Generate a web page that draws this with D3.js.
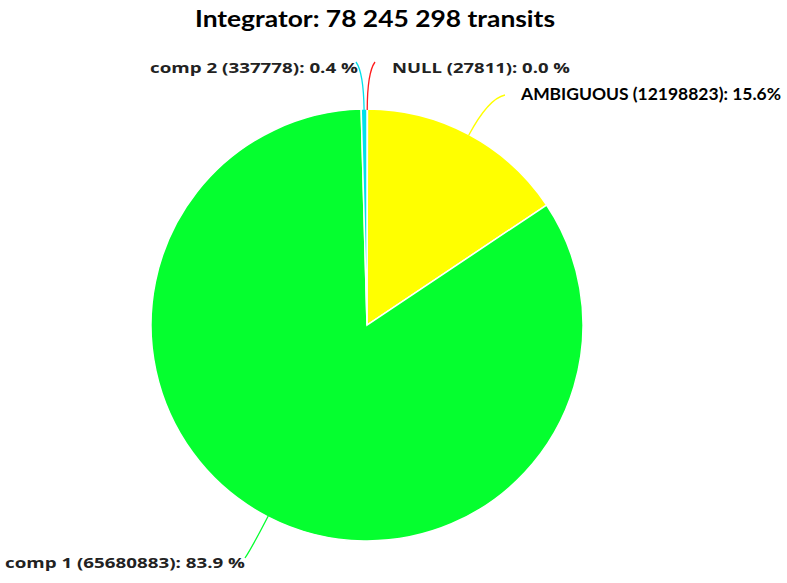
<!DOCTYPE html>
<html>
<head>
<meta charset="utf-8">
<script src="https://cdn.jsdelivr.net/npm/d3@7"></script>
<style>
  body { margin: 0; background: #fff; }
  svg { display: block; }
</style>
</head>
<body>
<svg id="chart" width="787" height="583"></svg>
<script>
// data, in drawing order (clockwise from 12 o'clock)
var categories = ["NULL", "AMBIGUOUS", "comp 1", "comp 2"];
var counts = [27811, 12198823, 65680883, 337778];
var percentLabels = ["0.0 %", "15.6%", "83.9 %", "0.4 %"];
var sliceColors = ["#ff1a1a", "#ffff00", "#05ff2f", "#00e1ea"];
var titleText = "Integrator: 78 245 298 transits";

// label layout (end = where the leader line stops)
var labelLayout = [
  { end: [375, 62], text: [392, 73], font: "'Open Sans'", size: 14.5, width: 178 },
  { end: [505, 95], text: [521, 100], font: "Lato", size: 17.5, width: 260 },
  { end: [245, 558], text: [5, 568], font: "'Open Sans'", size: 14.5, width: 240 },
  { end: [356, 62], text: [150, 73], font: "'Open Sans'", size: 14.5, width: 208 }
];

var svg = d3.select("#chart"),
  cx = 367,
  cy = 325,
  radius = 216;

svg
  .append("text")
  .attr("x", 375)
  .attr("y", 27)
  .attr("text-anchor", "middle")
  .attr("font-family", "Lato, 'Open Sans', sans-serif")
  .attr("font-weight", "bold")
  .attr("font-size", 23)
  .attr("textLength", 360)
  .attr("lengthAdjust", "spacingAndGlyphs")
  .attr("fill", "#000")
  .text(titleText);

var slices = d3
  .pie()
  .sort(null)
  .value(function(d) {
    return d;
  })(counts);

var arc = d3.arc().innerRadius(0).outerRadius(radius);

var g = svg.append("g").attr("transform", "translate(" + cx + "," + cy + ")");

g.selectAll("path.slice")
  .data(slices)
  .enter()
  .append("path")
  .attr("class", "slice")
  .attr("d", arc)
  .attr("fill", function(d, i) {
    return sliceColors[i];
  })
  .attr("stroke", "#fff")
  .attr("stroke-width", 1.5);

// leader lines from the rim at each slice's mid angle
function rimPoint(a, r) {
  return [cx + r * Math.sin(a), cy - r * Math.cos(a)];
}

svg
  .append("g")
  .selectAll("path")
  .data(slices)
  .enter()
  .append("path")
  .attr("d", function(d, i) {
    var mid = (d.startAngle + d.endAngle) / 2;
    var p0 = rimPoint(mid, radius - 1);
    var end = labelLayout[i].end;
    var dist = Math.hypot(end[0] - p0[0], end[1] - p0[1]);
    var c = rimPoint(mid, radius + dist * 0.75);
    return "M" + p0[0] + "," + p0[1] + "Q" + c[0] + "," + c[1] + " " + end[0] + "," + end[1];
  })
  .attr("fill", "none")
  .attr("stroke", function(d, i) {
    return sliceColors[i];
  })
  .attr("stroke-width", 1.3);

svg
  .append("g")
  .selectAll("text")
  .data(slices)
  .enter()
  .append("text")
  .attr("x", function(d, i) {
    return labelLayout[i].text[0];
  })
  .attr("y", function(d, i) {
    return labelLayout[i].text[1];
  })
  .attr("font-family", function(d, i) {
    return labelLayout[i].font + ", sans-serif";
  })
  .attr("font-weight", "bold")
  .attr("font-size", function(d, i) {
    return labelLayout[i].size;
  })
  .attr("textLength", function(d, i) {
    return labelLayout[i].width;
  })
  .attr("lengthAdjust", "spacingAndGlyphs")
  .attr("fill", function(d, i) {
    return i === 1 ? "#000" : "#222";
  })
  .text(function(d, i) {
    return categories[i] + " (" + counts[i] + "): " + percentLabels[i];
  });
</script>
</body>
</html>
